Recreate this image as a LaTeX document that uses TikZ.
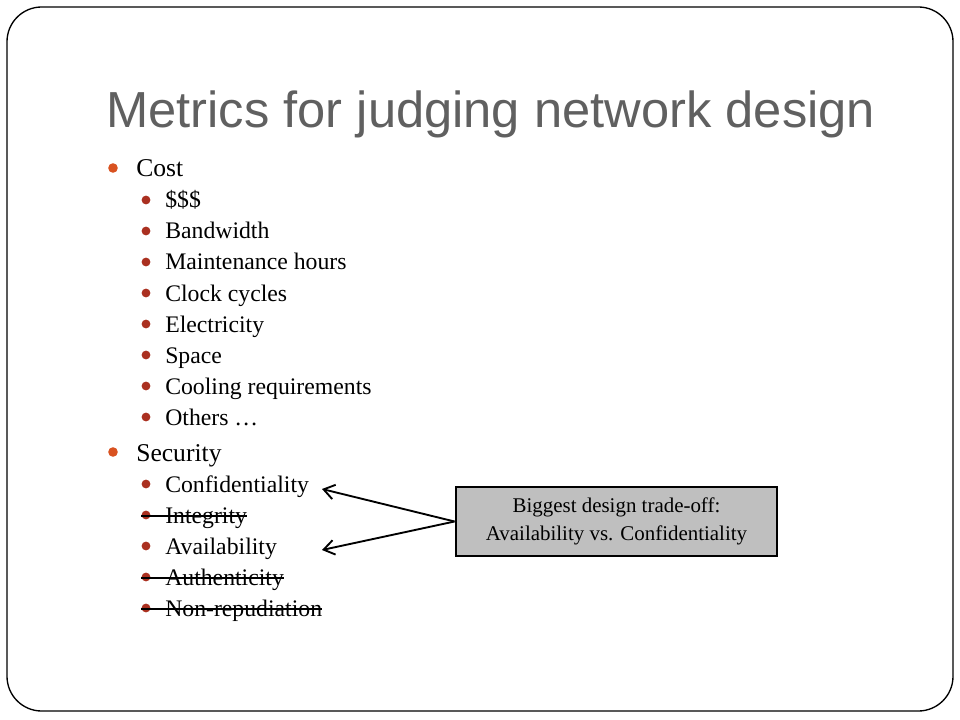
\documentclass[tikz,border=0pt]{standalone}
\usepackage{fontspec}
\setmainfont{Liberation Serif}
\newfontfamily\titlefont{Liberation Sans}
\usetikzlibrary{arrows.meta}
\definecolor{titlegray}{RGB}{96,96,96}
\definecolor{bulA}{RGB}{217,82,32}
\definecolor{bulB}{RGB}{170,48,32}
\definecolor{boxgray}{RGB}{191,191,191}
\begin{document}
\begin{tikzpicture}[x=0.75pt,y=-0.75pt,
  lvlone/.style={anchor=base west,inner sep=0pt,text=black,font=\fontsize{19.2pt}{23pt}\selectfont},
  lvltwo/.style={anchor=base west,inner sep=0pt,text=black,font=\fontsize{17.8pt}{21pt}\selectfont},
  bulone/.style={fill=bulA,draw=none,circle,minimum size=7.2pt,inner sep=0pt},
  bultwo/.style={fill=bulB,draw=none,circle,minimum size=6.6pt,inner sep=0pt},
  strike/.style={draw=black,line width=0.8pt},
  callout/.style={draw=black,fill=boxgray,line width=2.2pt,minimum width=240.75pt,minimum height=51.75pt,inner sep=0pt,align=center,font=\fontsize{15.7pt}{21pt}\selectfont},
  pointer/.style={draw=black,line width=1.4pt,-{Straight Barb[length=8pt,width=11pt,line width=1.4pt]}}
]
\useasboundingbox (0,0) rectangle (960,720);
\fill[white] (0,0) rectangle (960,720);
% slide frame
\draw[black,line width=1pt,rounded corners=26pt] (7,7) rectangle (953,711);

% title
\node[anchor=base west,inner sep=0pt,text=titlegray,font=\titlefont\fontsize{38pt}{44pt}\selectfont] (title) at (106,128) {Metrics for judging network design};

% Cost
\node[bulone] (bcost) at (113,168) {};
\node[lvlone] (cost) at (136,177) {Cost};
\node[bultwo] (b1) at (146,200) {};
\node[lvltwo] (t1) at (165,208) {\$\$\$};
\node[bultwo] (b2) at (146,231) {};
\node[lvltwo] (t2) at (165,239) {Bandwidth};
\node[bultwo] (b3) at (146,262) {};
\node[lvltwo] (t3) at (165,270) {Maintenance hours};
\node[bultwo] (b4) at (146,293) {};
\node[lvltwo] (t4) at (165,301) {Clock cycles};
\node[bultwo] (b5) at (146,324) {};
\node[lvltwo] (t5) at (165,332) {Electricity};
\node[bultwo] (b6) at (146,355) {};
\node[lvltwo] (t6) at (165,363) {Space};
\node[bultwo] (b7) at (146,386) {};
\node[lvltwo] (t7) at (165,394) {Cooling requirements};
\node[bultwo] (b8) at (146,417) {};
\node[lvltwo] (t8) at (165,425) {Others \dots};

% Security
\node[bulone] (bsec) at (113,452) {};
\node[lvlone] (sec) at (136,461) {Security};
\node[bultwo] (s1) at (146,484) {};
\node[lvltwo] (conf) at (165,492) {Confidentiality};
\node[bultwo] (s2) at (146,515) {};
\node[lvltwo] (integ) at (165,523) {Integrity};
\node[bultwo] (s3) at (146,546) {};
\node[lvltwo] (avail) at (165,554) {Availability};
\node[bultwo] (s4) at (146,577) {};
\node[lvltwo] (auth) at (165,585) {Authenticity};
\node[bultwo] (s5) at (146,608) {};
\node[lvltwo] (nonrep) at (165,616) {Non-repudiation};

% strike-through lines
\draw[strike] (141,516) -- ([yshift=5.25pt]integ.base east);
\draw[strike] (141,578) -- ([yshift=5.25pt]auth.base east);
\draw[strike] (141,609) -- ([yshift=5.25pt]nonrep.base east);

% callout box
\node[callout] (box) at (616.5,521.5) {Biggest design trade-off:\\Availability vs. Confidentiality};

% arrows
\coordinate (confTip) at (322,489);
\coordinate (availTip) at (322,550);
\draw[pointer] (box.west) -- (confTip);
\draw[pointer] (box.west) -- (availTip);
\end{tikzpicture}
\end{document}
